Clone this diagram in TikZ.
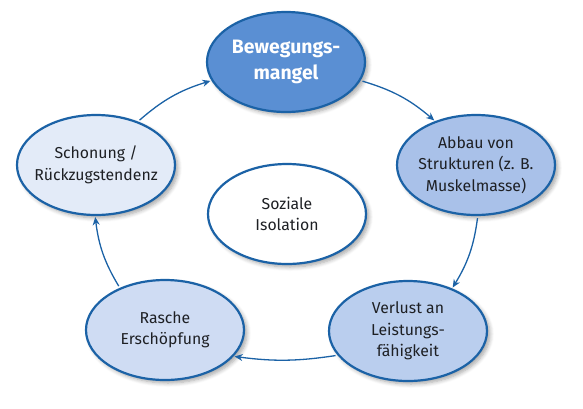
\documentclass[tikz,border=0pt]{standalone}
\usepackage{fontspec}
\setmainfont{Fira Sans}
\usetikzlibrary{shapes.geometric,arrows.meta,shadows.blur}
\definecolor{bord}{HTML}{1B62A6}
\definecolor{txt}{HTML}{1E2024}
\definecolor{cbew}{HTML}{5A8FD3}
\definecolor{cabb}{HTML}{A9C1E9}
\definecolor{cver}{HTML}{BACEEE}
\definecolor{cras}{HTML}{CFDCF3}
\definecolor{csch}{HTML}{E3EBF8}
\begin{document}
\begin{tikzpicture}[x=1pt,y=-1pt,
  ell/.style={ellipse, draw=bord, line width=2.2pt, minimum width=158pt, minimum height=100pt,
    inner sep=0pt,
    blur shadow={shadow xshift=3pt, shadow yshift=-3pt, shadow blur steps=6, shadow blur radius=4pt, shadow opacity=35}},
  lbl/.style={align=center, text=txt, inner sep=0pt, font=\fontsize{15.8}{21.5}\selectfont},
  lblw/.style={align=center, text=white, inner sep=0pt, font=\bfseries\fontsize{19.4}{26}\selectfont},
  arr/.style={draw=bord, line width=1.3pt, -{Stealth[length=8pt,width=7pt]}, shorten <=2pt, shorten >=1pt}]
\useasboundingbox (0,0) rectangle (583,408);
\node[ell, fill=cbew, label={[lblw]center:Bewegungs-\\mangel}] (bew) at (286,62) {};
\node[ell, fill=cabb, label={[lbl]center:Abbau von\\Strukturen (z. B.\\Muskelmasse)}] (abb) at (476,165) {};
\node[ell, fill=cver, label={[lbl]center:Verlust an\\Leistungs-\\fähigkeit}] (ver) at (408,331) {};
\node[ell, fill=cras, label={[lbl]center:Rasche\\Erschöpfung}] (ras) at (165,330) {};
\node[ell, fill=csch, label={[lbl]center:Schonung /\\Rückzugstendenz}] (sch) at (96,165) {};
\node[ell, fill=white, label={[lbl]center:Soziale\\Isolation}] (soz) at (287,214) {};
\draw[arr] (bew.-14) to[bend left=12] (abb.133);
\draw[arr] (abb.-88) to[bend left=12] (ver.44);
\draw[arr] (ver.-161) to[bend left=8] (ras.-21);
\draw[arr] (ras.137) to[bend left=12] (sch.-91);
\draw[arr] (sch.46) to[bend left=12] (bew.-166);
\end{tikzpicture}
\end{document}
